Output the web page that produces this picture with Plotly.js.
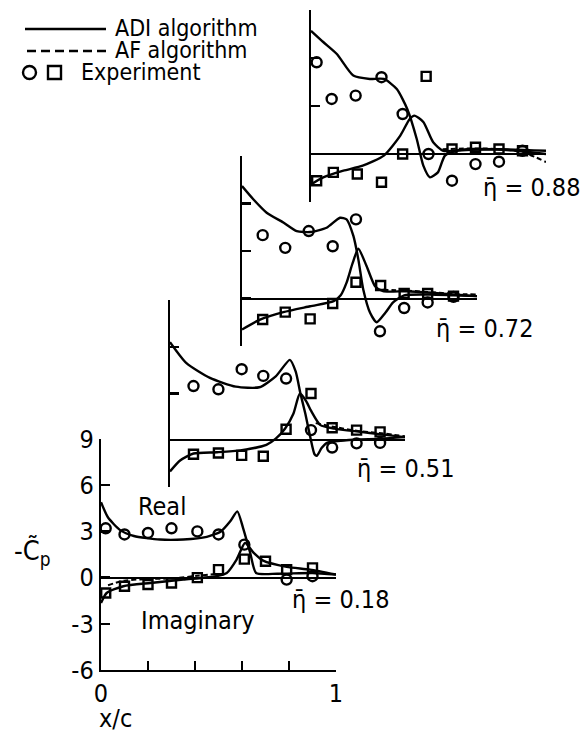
<!DOCTYPE html>
<html>
<head>
<meta charset="utf-8">
<script src="https://cdn.plot.ly/plotly-3.0.1.min.js"></script>
<style>
  html, body { margin: 0; padding: 0; background: #fff; }
  #chart { width: 586px; height: 738px; }
</style>
</head>
<body>
<div id="chart"></div>
<script>
// eta = 0.18
const realX1 = [0, 0.03, 0.08, 0.14, 0.25, 0.35, 0.45, 0.51, 0.55, 0.58, 0.605, 0.635, 0.66, 0.75, 0.9, 1.0];
const realY1 = [4.9, 3.9, 3.1, 2.7, 2.47, 2.47, 2.64, 3.0, 3.66, 4.3, 3.2, 1.6, 0.3, 0.25, 0.3, 0.2];
const imagX1 = [0, 0.024, 0.095, 0.21, 0.35, 0.49, 0.535, 0.577, 0.613, 0.65, 0.69, 0.79, 0.89, 1.0];
const imagY1 = [-1.65, -1.0, -0.56, -0.35, -0.13, 0.09, 0.3, 1.17, 2.25, 1.6, 1.1, 0.7, 0.52, 0.2];
const afX1 = [0.03, 0.1, 0.2, 0.3, 0.4, 0.5];
const afY1 = [-0.5, -0.2, -0.1, -0.05, 0.1, 0.25];
const circX1 = [0.02, 0.1, 0.2, 0.3, 0.41, 0.5, 0.61, 0.79, 0.9];
const circY1 = [3.2, 2.8, 2.9, 3.2, 3.0, 2.8, 2.14, -0.13, 0.09];
const sqX1 = [0.02, 0.1, 0.2, 0.3, 0.41, 0.5, 0.61, 0.7, 0.79, 0.9];
const sqY1 = [-1.0, -0.56, -0.45, -0.35, 0.0, 0.52, 1.2, 1.06, 0.52, 0.63];

// eta = 0.51
const realX2 = [0, 0.07, 0.17, 0.28, 0.38, 0.45, 0.51, 0.535, 0.555, 0.576, 0.597, 0.615, 0.625, 0.645, 0.67, 0.75, 0.9, 1.0];
const realY2 = [6.3, 4.95, 4.0, 3.44, 3.4, 4.1, 5.16, 4.4, 3.0, 1.7, 0.2, -0.9, -1.0, -0.5, -0.15, 0.0, 0.1, 0.2];
const imagX2 = [0, 0.043, 0.1, 0.2, 0.3, 0.41, 0.45, 0.49, 0.525, 0.553, 0.58, 0.6, 0.64, 0.7, 0.81, 0.89, 1.0];
const imagY2 = [-2.0, -1.3, -0.85, -0.77, -0.65, -0.3, 0.1, 0.75, 1.7, 3.0, 2.5, 1.9, 0.97, 0.75, 0.54, 0.39, 0.2];
const afX2 = [0.62, 0.7, 0.8, 0.9, 1.0];
const afY2 = [1.1, 0.85, 0.6, 0.45, 0.25];
const circX2 = [0.1, 0.206, 0.305, 0.397, 0.494, 0.6, 0.69, 0.794, 0.894];
const circY2 = [3.48, 3.27, 4.56, 4.13, 3.96, 0.65, -0.47, -0.2, -0.17];
const sqX2 = [0.1, 0.206, 0.305, 0.397, 0.494, 0.6, 0.69, 0.794, 0.894];
const sqY2 = [-0.9, -0.82, -0.97, -1.03, 0.71, 3.0, 0.8, 0.65, 0.54];

// eta = 0.72
const realX3 = [0, 0.048, 0.105, 0.176, 0.233, 0.29, 0.36, 0.417, 0.445, 0.474, 0.495, 0.516, 0.545, 0.573, 0.61, 0.643, 0.69, 0.8, 0.9, 1.0];
const realY3 = [7.1, 6.27, 5.42, 4.8, 4.26, 4.2, 4.47, 5.1, 5.0, 3.95, 2.47, 0.57, -0.9, -1.5, -0.9, -0.25, 0.2, 0.25, 0.2, 0.15];
const imagX3 = [0, 0.077, 0.176, 0.29, 0.39, 0.42, 0.445, 0.47, 0.495, 0.53, 0.566, 0.6, 0.7, 0.81, 0.9, 1.0];
const imagY3 = [-1.96, -1.33, -0.86, -0.49, -0.17, 0.2, 1.0, 2.2, 3.14, 2.05, 0.78, 0.46, 0.46, 0.36, 0.25, 0.15];
const afX3 = [0.6, 0.7, 0.8, 0.9, 1.0];
const afY3 = [0.55, 0.5, 0.4, 0.3, 0.25];
const circX3 = [0.088, 0.184, 0.284, 0.386, 0.485, 0.587, 0.69, 0.79, 0.9];
const circY3 = [4.0, 3.2, 4.26, 3.3, 5.0, -2.07, -0.6, -0.25, 0.1];
const sqX3 = [0.088, 0.184, 0.29, 0.386, 0.485, 0.59, 0.69, 0.79, 0.9];
const sqY3 = [-1.33, -0.86, -1.29, -0.32, 1.03, 0.82, 0.32, 0.32, 0.15];

// eta = 0.88
const realX4 = [0, 0.052, 0.11, 0.18, 0.25, 0.31, 0.365, 0.41, 0.45, 0.478, 0.506, 0.54, 0.57, 0.62, 0.8, 1.0];
const realY4 = [7.7, 7.0, 6.25, 4.9, 4.69, 4.69, 4.06, 2.8, 0.94, -0.73, -1.46, -1.15, -0.1, 0.2, 0.3, 0.2];
const imagX4 = [0, 0.052, 0.138, 0.22, 0.31, 0.38, 0.42, 0.44, 0.478, 0.52, 0.563, 0.68, 0.82, 1.0];
const imagY4 = [-1.9, -1.46, -1.04, -0.73, -0.1, 1.15, 2.19, 2.4, 2.0, 0.73, 0.2, 0.31, 0.27, 0.0];
const afX4 = [0.56, 0.7, 0.8, 0.9, 1.0];
const afY4 = [0.3, 0.35, 0.3, 0.1, -0.5];
const circX4 = [0.024, 0.088, 0.19, 0.3, 0.39, 0.5, 0.6, 0.7, 0.8, 0.9];
const circY4 = [5.73, 3.44, 3.65, 4.8, 2.5, 0, -1.67, -0.63, -0.48, 0.2];
const sqX4 = [0.024, 0.095, 0.197, 0.3, 0.39, 0.49, 0.6, 0.7, 0.8, 0.9];
const sqY4 = [-1.67, -1.15, -1.25, -1.77, 0, 4.85, 0.31, 0.42, 0.31, 0.2];

const etaLabels = ['0.18', '0.51', '0.72', '0.88'];
const yTickVals = [9, 6, 3, 0, -3, -6];
const yTickText = ['9', '6', '3', '0', '-3', '-6'];
const xTickVals = [0, 0.2, 0.4, 0.6, 0.8, 1];
const xTickText = ['0', '', '', '', '', '1'];

const W = 586, H = 738;
const FONT = '"DejaVu Sans Condensed", "DejaVu Sans", sans-serif';
const FS = 25;

// panel boxes in pixels: left, right, top, bottom
const boxes = [
    { l: 101, r: 336, t: 439, b: 670, ymin: -6 },
    { l: 170, r: 405, t: 300, b: 487, ymin: -3 },
    { l: 242, r: 477, t: 156, b: 346, ymin: -3 },
    { l: 311, r: 546, t: 10,  b: 202, ymin: -3 }
];
// where each eta label sits (y in panel units, x shift in px from x = 1)
const etaPos = [{ y: -1.45, dx: 4 }, { y: -1.8, dx: 0 }, { y: -1.9, dx: 7 }, { y: -2.1, dx: -15 }];

const panels = [
    [realX1, realY1, imagX1, imagY1, afX1, afY1, circX1, circY1, sqX1, sqY1],
    [realX2, realY2, imagX2, imagY2, afX2, afY2, circX2, circY2, sqX2, sqY2],
    [realX3, realY3, imagX3, imagY3, afX3, afY3, circX3, circY3, sqX3, sqY3],
    [realX4, realY4, imagX4, imagY4, afX4, afY4, circX4, circY4, sqX4, sqY4]
];

const traces = [];
const layout = {
    width: W, height: H,
    margin: { t: 0, r: 0, b: 0, l: 0 },
    paper_bgcolor: '#fff', plot_bgcolor: 'rgba(0,0,0,0)',
    showlegend: false,
    font: { family: FONT, size: FS, color: '#000' },
    annotations: [], shapes: []
};

const txt = (extra) => Object.assign({ showarrow: false, xanchor: 'center', yanchor: 'middle', font: { family: FONT, size: FS } }, extra);

panels.forEach((p, i) => {
    const n = i + 1;
    const xa = n === 1 ? 'x' : 'x' + n;
    const ya = n === 1 ? 'y' : 'y' + n;
    const line = { color: '#000', width: 2.4, shape: 'spline', smoothing: 0.6 };
    traces.push({ x: p[0], y: p[1], xaxis: xa, yaxis: ya, mode: 'lines', line, cliponaxis: false });
    traces.push({ x: p[2], y: p[3], xaxis: xa, yaxis: ya, mode: 'lines', line, cliponaxis: false });
    traces.push({ x: p[4], y: p[5], xaxis: xa, yaxis: ya, mode: 'lines', cliponaxis: false,
        line: { color: '#000', width: 2, dash: '5px,3px', shape: 'spline' } });
    traces.push({ x: p[6], y: p[7], xaxis: xa, yaxis: ya, mode: 'markers', cliponaxis: false,
        marker: { symbol: 'circle-open', size: 10, color: '#000', line: { width: 2.4, color: '#000' } } });
    traces.push({ x: p[8], y: p[9], xaxis: xa, yaxis: ya, mode: 'markers', cliponaxis: false,
        marker: { symbol: 'square-open', size: 9, color: '#000', line: { width: 2.4, color: '#000' } } });

    const b = boxes[i];
    const first = i === 0;
    layout['xaxis' + (first ? '' : n)] = {
        domain: [b.l / W, b.r / W], anchor: ya, range: [0, 1],
        showgrid: false, zeroline: false, fixedrange: true,
        showline: first, linecolor: '#000', linewidth: 2.2,
        ticks: first ? 'inside' : '', ticklen: 9, tickwidth: 2.2, tickcolor: '#000',
        tickvals: xTickVals, ticktext: xTickText, showticklabels: first,
        tickfont: { family: FONT, size: FS }
    };
    layout['yaxis' + (first ? '' : n)] = {
        domain: [1 - b.b / H, 1 - b.t / H], anchor: xa, range: [b.ymin, 9],
        showgrid: false, fixedrange: true,
        zeroline: true, zerolinecolor: '#000', zerolinewidth: 2,
        showline: true, linecolor: '#000', linewidth: 2.2,
        ticks: 'inside', ticklen: 9, tickwidth: 2.2, tickcolor: '#000',
        tickvals: yTickVals, ticktext: yTickText, showticklabels: first,
        tickfont: { family: FONT, size: FS }
    };

    layout.annotations.push(txt({
        xref: xa + ' domain', yref: ya, x: 1.0, y: etaPos[i].y, xshift: etaPos[i].dx,
        text: 'η\u0304 = ' + etaLabels[i]
    }));
});

layout.annotations.push(
    txt({ xref: 'x', yref: 'y', x: 0.26, y: 4.6, text: 'Real' }),
    txt({ xref: 'x', yref: 'y', x: 0.41, y: -2.8, text: 'Imaginary' }),
    txt({ xref: 'x', yref: 'paper', x: 0.06, y: 1 - 718 / H, text: 'x/c' }),
    txt({ xref: 'paper', yref: 'paper', x: 32 / W, y: 1 - 552 / H, text: '-C\u0303<sub>p</sub>', font: { family: FONT, size: 27 } }),
    // legend text
    txt({ xref: 'paper', yref: 'paper', x: 113 / W, y: 1 - 28 / H, xanchor: 'left', text: 'ADI algorithm', font: { family: FONT, size: 23 } }),
    txt({ xref: 'paper', yref: 'paper', x: 113 / W, y: 1 - 50 / H, xanchor: 'left', text: 'AF algorithm', font: { family: FONT, size: 23 } }),
    txt({ xref: 'paper', yref: 'paper', x: 79 / W, y: 1 - 72 / H, xanchor: 'left', text: 'Experiment', font: { family: FONT, size: 23 } })
);

// legend samples
layout.shapes.push(
    { type: 'line', xref: 'paper', yref: 'paper', x0: 25 / W, x1: 106 / W, y0: 1 - 29 / H, y1: 1 - 29 / H, line: { color: '#000', width: 2.4 } },
    { type: 'line', xref: 'paper', yref: 'paper', x0: 27 / W, x1: 106 / W, y0: 1 - 51 / H, y1: 1 - 51 / H, line: { color: '#000', width: 2.4, dash: '9px,5px' } },
    { type: 'circle', xref: 'paper', yref: 'paper', x0: 23 / W, x1: 36 / W, y0: 1 - 79 / H, y1: 1 - 66 / H, line: { color: '#000', width: 2.4 } },
    { type: 'rect', xref: 'paper', yref: 'paper', x0: 48 / W, x1: 61 / W, y0: 1 - 79 / H, y1: 1 - 66 / H, line: { color: '#000', width: 2.4 } }
);

Plotly.newPlot('chart', traces, layout, { displayModeBar: false, staticPlot: true });
</script>
</body>
</html>
